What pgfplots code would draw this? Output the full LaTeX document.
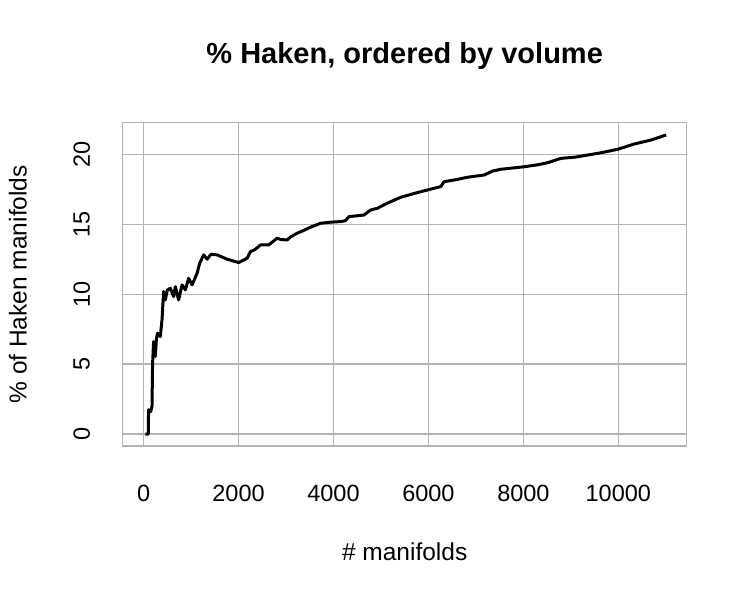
\documentclass[border=0pt]{standalone}
\usepackage{fontspec}
\setmainfont{Liberation Sans}
\usepackage{pgfplots}
\pgfplotsset{compat=1.18}
\definecolor{gridgray}{HTML}{B3B3B3}
\begin{document}
\begin{tikzpicture}[x=1pt,y=1pt]
\path[use as bounding box] (0,0) rectangle (750,600);
\begin{axis}[
  at={(122.7pt,154pt)}, anchor=south west,
  scale only axis, width=564pt, height=323.3pt,
  xmin=-440, xmax=11440, ymin=-0.856, ymax=22.26,
  xtick={0,2000,4000,6000,8000,10000},
  ytick={0,5,10,15,20},
  scaled ticks=false,
  /pgf/number format/1000 sep={},
  /pgf/number format/assume math mode=true,
  major tick length=0pt,
  grid=major,
  major grid style={color=gridgray, line width=1.3pt},
  axis line style={color=gridgray, line width=1.3pt},
  tick label style={font=\fontsize{23.5}{23.5}\selectfont},
  xticklabel style={anchor=center, yshift=-47pt},
  yticklabel style={anchor=center, xshift=-41pt, rotate=90},
  xlabel={\# manifolds},
  ylabel={\% of Haken manifolds},
  label style={font=\fontsize{24.5}{24.5}\selectfont},
  xlabel style={at={(axis description cs:0.5,-0.327)}, anchor=center},
  ylabel style={at={(axis description cs:-0.186,0.5)}, anchor=center},
  title={\% Haken, ordered by volume},
  title style={font=\fontsize{29}{29}\selectfont\bfseries, at={(axis description cs:0.5,1.188)}, anchor=center},
]
\addplot[black, line width=3pt, line join=round] coordinates {
(40,0) (100,0) (105,1.74) (150,1.6) (177,1.97) (190,5.07) (211,6.61) (247,5.54) (270,6.8)
(295,7.21) (352,6.97) (388,8.16) (422,10.19) (458,9.59) (500,10.3) (563,10.43) (633,9.83)
(669,10.54) (738,9.59) (810,10.66) (880,10.31) (949,11.14) (1021,10.66) (1127,11.5)
(1181,12.21) (1266,12.81) (1338,12.5) (1420,12.85) (1549,12.81) (1759,12.5) (2004,12.26)
(2181,12.57) (2251,13.04) (2350,13.2) (2462,13.52) (2637,13.52) (2700,13.7) (2814,14.0) (2900,13.9) (3025,13.88) (3100,14.1) (3236,14.36)
(3400,14.6) (3517,14.79) (3728,15.07) (3950,15.15) (4150,15.19) (4250,15.25) (4325,15.54) (4641,15.66) (4783,16.02) (4924,16.14)
(5100,16.45) (5416,16.93) (5700,17.2) (5979,17.45) (6259,17.69) (6329,18.04) (6600,18.2) (6823,18.36) (7173,18.52) (7350,18.8) (7525,18.93)
(8017,19.11) (8300,19.25) (8511,19.4) (8791,19.71) (9100,19.8) (9354,19.95) (9635,20.11) (9987,20.36) (10338,20.74)
(10690,21.02) (11006,21.38)
};
\end{axis}
\end{tikzpicture}
\end{document}
